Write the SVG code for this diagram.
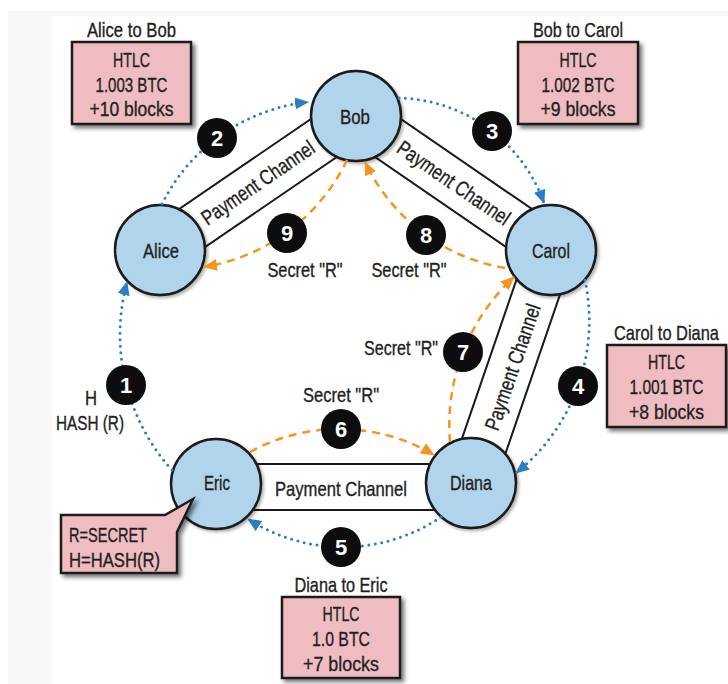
<svg xmlns="http://www.w3.org/2000/svg" width="728" height="684" viewBox="0 0 728 684">
<style>
.t{font-family:"Liberation Sans Narrow","Liberation Sans",Arial,sans-serif;font-size:21px;fill:#231f20;stroke:#231f20;stroke-width:0.35;text-anchor:middle}
.l{text-anchor:start}
.e{text-anchor:end}
.n{font-family:"Liberation Sans Narrow","Liberation Sans",Arial,sans-serif;font-size:22px;font-weight:bold;fill:#fff;text-anchor:middle}
.node circle{fill:#b0d4ec;stroke:#1a1a1a;stroke-width:2.5;filter:url(#ns)}
.box{fill:#efbcc1;stroke:#1a1a1a;stroke-width:2.5;filter:url(#sh)}
.ch{fill:#fff;stroke:#1a1a1a;stroke-width:2}
.fwd{fill:none;stroke:#2a7fc4;stroke-width:3;stroke-linecap:round;stroke-dasharray:0 6.5;marker-end:url(#ab)}
.bwd{fill:none;stroke:#f7941d;stroke-width:2.5;stroke-dasharray:8 6;marker-end:url(#ao)}
.badge circle{fill:#0d0d0d}
</style>
<defs>
<filter id="sh" x="-10%" y="-10%" width="130%" height="130%"><feDropShadow dx="3" dy="3" stdDeviation="2" flood-color="#000" flood-opacity="0.55"/></filter>
<filter id="ns" x="-10%" y="-10%" width="130%" height="130%"><feDropShadow dx="2" dy="2" stdDeviation="1.5" flood-color="#000" flood-opacity="0.3"/></filter>
<marker id="ab" viewBox="0 0 14 12" refX="13" refY="6" markerWidth="14" markerHeight="12" markerUnits="userSpaceOnUse" orient="auto"><path d="M0,0 L14,6 L0,12 z" fill="#2a7fc4"/></marker>
<marker id="ao" viewBox="0 0 14 12" refX="13" refY="6" markerWidth="14" markerHeight="12" markerUnits="userSpaceOnUse" orient="auto"><path d="M0,0 L14,6 L0,12 z" fill="#f7941d"/></marker>
</defs>
<rect x="0" y="0" width="728" height="684" fill="#fff"/>
<rect x="8" y="11" width="720" height="673" fill="#f8f8f8"/>
<rect x="52" y="16" width="676" height="668" fill="#fff"/>

<g id="channels">
<g transform="translate(258,183) rotate(-34.36)"><rect class="ch" x="-118.7" y="-23" width="237.4" height="46"/><text class="t" x="0" y="7" textLength="132" lengthAdjust="spacingAndGlyphs">Payment Channel</text></g>
<g transform="translate(453.5,183) rotate(34.49)"><rect class="ch" x="-118.3" y="-23" width="236.6" height="46"/><text class="t" x="0" y="7" textLength="132" lengthAdjust="spacingAndGlyphs">Payment Channel</text></g>
<g transform="translate(511,366.5) rotate(-71.05)"><rect class="ch" x="-123.2" y="-23" width="246.4" height="46"/><text class="t" x="0" y="9" textLength="132" lengthAdjust="spacingAndGlyphs">Payment Channel</text></g>
<g><rect class="ch" x="216" y="464" width="255" height="46"/><text class="t" x="341" y="496" textLength="132" lengthAdjust="spacingAndGlyphs">Payment Channel</text></g>
</g>

<g id="node-alice" class="node"><circle cx="160" cy="250" r="45"/><text class="t" x="161" y="258" textLength="36" lengthAdjust="spacingAndGlyphs">Alice</text></g>
<g id="node-bob" class="node"><circle cx="356" cy="116" r="45"/><text class="t" x="355" y="124" textLength="30" lengthAdjust="spacingAndGlyphs">Bob</text></g>
<g id="node-carol" class="node"><circle cx="551" cy="250" r="45"/><text class="t" x="551" y="258" textLength="38" lengthAdjust="spacingAndGlyphs">Carol</text></g>
<g id="node-diana" class="node"><circle cx="471" cy="483" r="45"/><text class="t" x="471" y="490" textLength="42" lengthAdjust="spacingAndGlyphs">Diana</text></g>
<g id="node-eric" class="node"><circle cx="216" cy="484" r="45"/><text class="t" x="217" y="490" textLength="26" lengthAdjust="spacingAndGlyphs">Eric</text></g>

<g id="connectors">
<path class="fwd" d="M172,470 A202,202 0 0 1 127,282"/>
<path class="fwd" d="M162,204 A186,186 0 0 1 308,102"/>
<path class="fwd" d="M399,98 A158,158 0 0 1 544,203"/>
<path class="fwd" d="M585,280 A195,195 0 0 1 516,473"/>
<path class="fwd" d="M441,517 A175,175 0 0 1 248,519"/>
<path class="bwd" d="M250,452 A185,185 0 0 1 434,455"/>
<path class="bwd" d="M450,442 A202,202 0 0 1 514,277"/>
<path class="bwd" d="M505,268 A190,190 0 0 1 365,162"/>
<path class="bwd" d="M347,160 A193,193 0 0 1 204,267"/>
</g>

<g id="badges">
<g class="badge"><circle cx="126" cy="385" r="20"/><text class="n" x="126" y="393">1</text></g>
<g class="badge"><circle cx="217" cy="138" r="20"/><text class="n" x="217" y="146">2</text></g>
<g class="badge"><circle cx="492" cy="131" r="20"/><text class="n" x="492" y="139">3</text></g>
<g class="badge"><circle cx="578" cy="386" r="20"/><text class="n" x="578" y="394">4</text></g>
<g class="badge"><circle cx="341" cy="547" r="20"/><text class="n" x="341" y="555">5</text></g>
<g class="badge"><circle cx="341" cy="429" r="20"/><text class="n" x="341" y="437">6</text></g>
<g class="badge"><circle cx="463" cy="352" r="20"/><text class="n" x="463" y="360">7</text></g>
<g class="badge"><circle cx="426" cy="235" r="20"/><text class="n" x="426" y="243">8</text></g>
<g class="badge"><circle cx="287" cy="233" r="20"/><text class="n" x="287" y="241">9</text></g>
</g>

<g id="labels">
<text class="t" x="305" y="277" textLength="75" lengthAdjust="spacingAndGlyphs">Secret "R"</text>
<text class="t" x="409" y="277" textLength="75" lengthAdjust="spacingAndGlyphs">Secret "R"</text>
<text class="t e" x="438" y="355" textLength="74" lengthAdjust="spacingAndGlyphs">Secret "R"</text>
<text class="t" x="341" y="402" textLength="76" lengthAdjust="spacingAndGlyphs">Secret "R"</text>
<text class="t" x="91" y="405" textLength="12" lengthAdjust="spacingAndGlyphs">H</text>
<text class="t" x="90" y="430" textLength="68" lengthAdjust="spacingAndGlyphs">HASH (R)</text>
</g>

<g id="htlc-alice-bob">
<text class="t" x="131.5" y="37" textLength="89" lengthAdjust="spacingAndGlyphs">Alice to Bob</text>
<rect class="box" x="72" y="42" width="119" height="82"/>
<text class="t" x="131.5" y="67" textLength="37" lengthAdjust="spacingAndGlyphs">HTLC</text>
<text class="t" x="131.5" y="92" textLength="72" lengthAdjust="spacingAndGlyphs">1.003 BTC</text>
<text class="t" x="131.5" y="116" textLength="84" lengthAdjust="spacingAndGlyphs">+10 blocks</text>
</g>
<g id="htlc-bob-carol">
<text class="t" x="578" y="37" textLength="90" lengthAdjust="spacingAndGlyphs">Bob to Carol</text>
<rect class="box" x="518" y="42" width="120" height="82"/>
<text class="t" x="578" y="67" textLength="37" lengthAdjust="spacingAndGlyphs">HTLC</text>
<text class="t" x="578" y="92" textLength="73" lengthAdjust="spacingAndGlyphs">1.002 BTC</text>
<text class="t" x="578" y="116" textLength="75" lengthAdjust="spacingAndGlyphs">+9 blocks</text>
</g>
<g id="htlc-carol-diana">
<text class="t e" x="719" y="340" textLength="105" lengthAdjust="spacingAndGlyphs">Carol to Diana</text>
<rect class="box" x="607" y="345" width="119" height="82"/>
<text class="t e" x="685" y="369" textLength="37" lengthAdjust="spacingAndGlyphs">HTLC</text>
<text class="t e" x="703.5" y="394" textLength="74" lengthAdjust="spacingAndGlyphs">1.001 BTC</text>
<text class="t e" x="704" y="419" textLength="75" lengthAdjust="spacingAndGlyphs">+8 blocks</text>
</g>
<g id="htlc-diana-eric">
<text class="t" x="341" y="592" textLength="93" lengthAdjust="spacingAndGlyphs">Diana to Eric</text>
<rect class="box" x="282" y="597" width="118" height="81"/>
<text class="t" x="341" y="621" textLength="37" lengthAdjust="spacingAndGlyphs">HTLC</text>
<text class="t" x="341" y="646" textLength="58" lengthAdjust="spacingAndGlyphs">1.0 BTC</text>
<text class="t" x="341" y="671" textLength="76" lengthAdjust="spacingAndGlyphs">+7 blocks</text>
</g>
<g id="callout-eric">
<path class="box" d="M61,515 H165 L193,499 L177,532 V573 H61 Z"/>
<text class="t l" x="69" y="542" textLength="78" lengthAdjust="spacingAndGlyphs">R=SECRET</text>
<text class="t l" x="69" y="567" textLength="91" lengthAdjust="spacingAndGlyphs">H=HASH(R)</text>
</g>
</svg>
